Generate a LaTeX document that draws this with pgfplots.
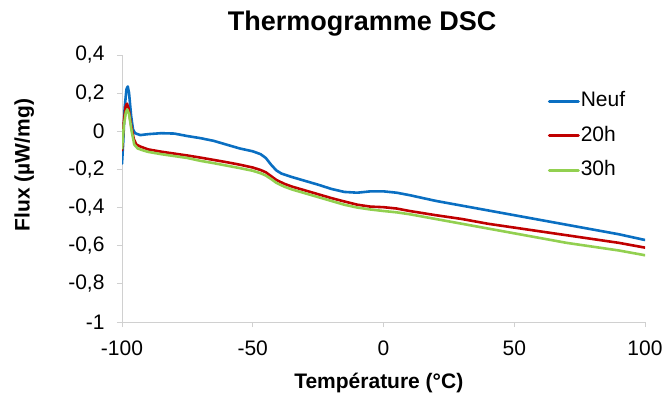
\documentclass[border=0pt]{standalone}
\usepackage{fontspec}
\setmainfont{Liberation Sans}
\usepackage{pgfplots}
\pgfplotsset{compat=1.18}
\definecolor{cBlue}{HTML}{0A6FC2}
\definecolor{cRed}{HTML}{C00000}
\definecolor{cGreen}{HTML}{92D050}
\definecolor{axgray}{HTML}{D0D0D0}
\begin{document}
\begin{tikzpicture}
\useasboundingbox (0,0) rectangle (665bp,399bp);
\begin{axis}[
  at={(122bp,77bp)}, anchor=south west,
  scale only axis, width=523bp, height=267bp,
  xmin=-100, xmax=100, ymin=-1, ymax=0.4,
  xtick={-100,-50,0,50,100},
  ytick={-1,-0.8,-0.6,-0.4,-0.2,0,0.2,0.4},
  axis x line*=bottom, axis y line*=left,
  axis line style={draw=axgray, line width=0.8bp, -},
  tick style={draw=axgray, line width=0.8bp},
  tick align=outside, major tick length=5bp,
  /pgf/number format/.cd, use comma, fixed, precision=1, assume math mode=true,
  /pgfplots/.cd,
  tick label style={font=\fontsize{21bp}{25bp}\selectfont, text=black},
  xticklabel style={yshift=-10bp},
  yticklabel style={xshift=-9bp},
  title={\textbf{Thermogramme DSC}},
  title style={font=\fontsize{27bp}{32bp}\selectfont, at={(axis description cs:0.459,1.0)}, anchor=base, yshift=19bp},
  xlabel={\textbf{Température (°C)}},
  xlabel style={font=\fontsize{21bp}{25bp}\selectfont, at={(axis description cs:0.491,-0.228)}, anchor=center},
  ylabel={\textbf{Flux (µW/mg)}},
  ylabel style={font=\fontsize{21bp}{25bp}\selectfont, at={(axis description cs:-0.187,0.588)}, anchor=center},
  legend style={at={(axis description cs:0.808,0.875)}, anchor=north west, draw=none, fill=none,
    font=\fontsize{21bp}{25bp}\selectfont, row sep=13.5bp,
    nodes={inner sep=1bp, text height=15bp, text depth=4bp}},
  legend cell align=left,
  legend image code/.code={\draw[#1, line width=3bp] (0bp,0bp) -- (29bp,0bp);},
  every axis plot/.append style={line width=2.6bp, line join=round, line cap=round},
]
\addplot[cBlue] coordinates {
(-100,-0.17) (-99.5,-0.05) (-99,0.12) (-98.3,0.22) (-97.8,0.235) (-97.3,0.2)
(-96.5,0.08) (-95.8,0.01) (-95,-0.01) (-93,-0.02) (-90,-0.015) (-85,-0.01)
(-80,-0.012) (-75,-0.025) (-70,-0.036) (-65,-0.05) (-60,-0.07) (-55,-0.09)
(-50,-0.105) (-47,-0.12) (-45,-0.14) (-43,-0.175) (-41,-0.205) (-39,-0.222)
(-35,-0.24) (-30,-0.26) (-25,-0.28) (-20,-0.302) (-15,-0.318) (-10,-0.322)
(-5,-0.315) (0,-0.315) (5,-0.322) (10,-0.335) (20,-0.365) (30,-0.39)
(40,-0.415) (50,-0.44) (60,-0.465) (70,-0.49) (80,-0.515) (90,-0.54) (100,-0.57)
};
\addlegendentry{Neuf}
\addplot[cRed] coordinates {
(-100,-0.1) (-99.3,0.05) (-98.6,0.13) (-98.1,0.145) (-97.5,0.12) (-96.5,0.03)
(-95.5,-0.04) (-94.5,-0.07) (-93,-0.08) (-90,-0.095) (-85,-0.107) (-80,-0.117)
(-75,-0.127) (-70,-0.138) (-65,-0.15) (-60,-0.162) (-55,-0.175) (-50,-0.19)
(-47,-0.203) (-45,-0.215) (-43,-0.235) (-41,-0.255) (-38,-0.275) (-35,-0.29)
(-30,-0.31) (-25,-0.33) (-20,-0.35) (-15,-0.368) (-10,-0.385) (-5,-0.395)
(0,-0.398) (5,-0.405) (10,-0.418) (20,-0.44) (30,-0.46) (40,-0.485)
(50,-0.505) (60,-0.525) (70,-0.545) (80,-0.565) (90,-0.585) (100,-0.61)
};
\addlegendentry{20h}
\addplot[cGreen] coordinates {
(-100,-0.09) (-99.3,0.03) (-98.5,0.1) (-98,0.115) (-97.3,0.09) (-96.3,0.0)
(-95.3,-0.07) (-94,-0.09) (-92,-0.1) (-90,-0.108) (-85,-0.12) (-80,-0.13)
(-75,-0.14) (-70,-0.155) (-65,-0.167) (-60,-0.18) (-55,-0.193) (-50,-0.207)
(-47,-0.22) (-45,-0.232) (-43,-0.25) (-41,-0.27) (-38,-0.29) (-35,-0.305)
(-30,-0.325) (-25,-0.345) (-20,-0.365) (-15,-0.385) (-10,-0.4) (-5,-0.41)
(0,-0.418) (5,-0.425) (10,-0.435) (20,-0.46) (30,-0.485) (40,-0.51)
(50,-0.535) (60,-0.56) (70,-0.585) (80,-0.605) (90,-0.625) (100,-0.65)
};
\addlegendentry{30h}
\end{axis}
\end{tikzpicture}
\end{document}
